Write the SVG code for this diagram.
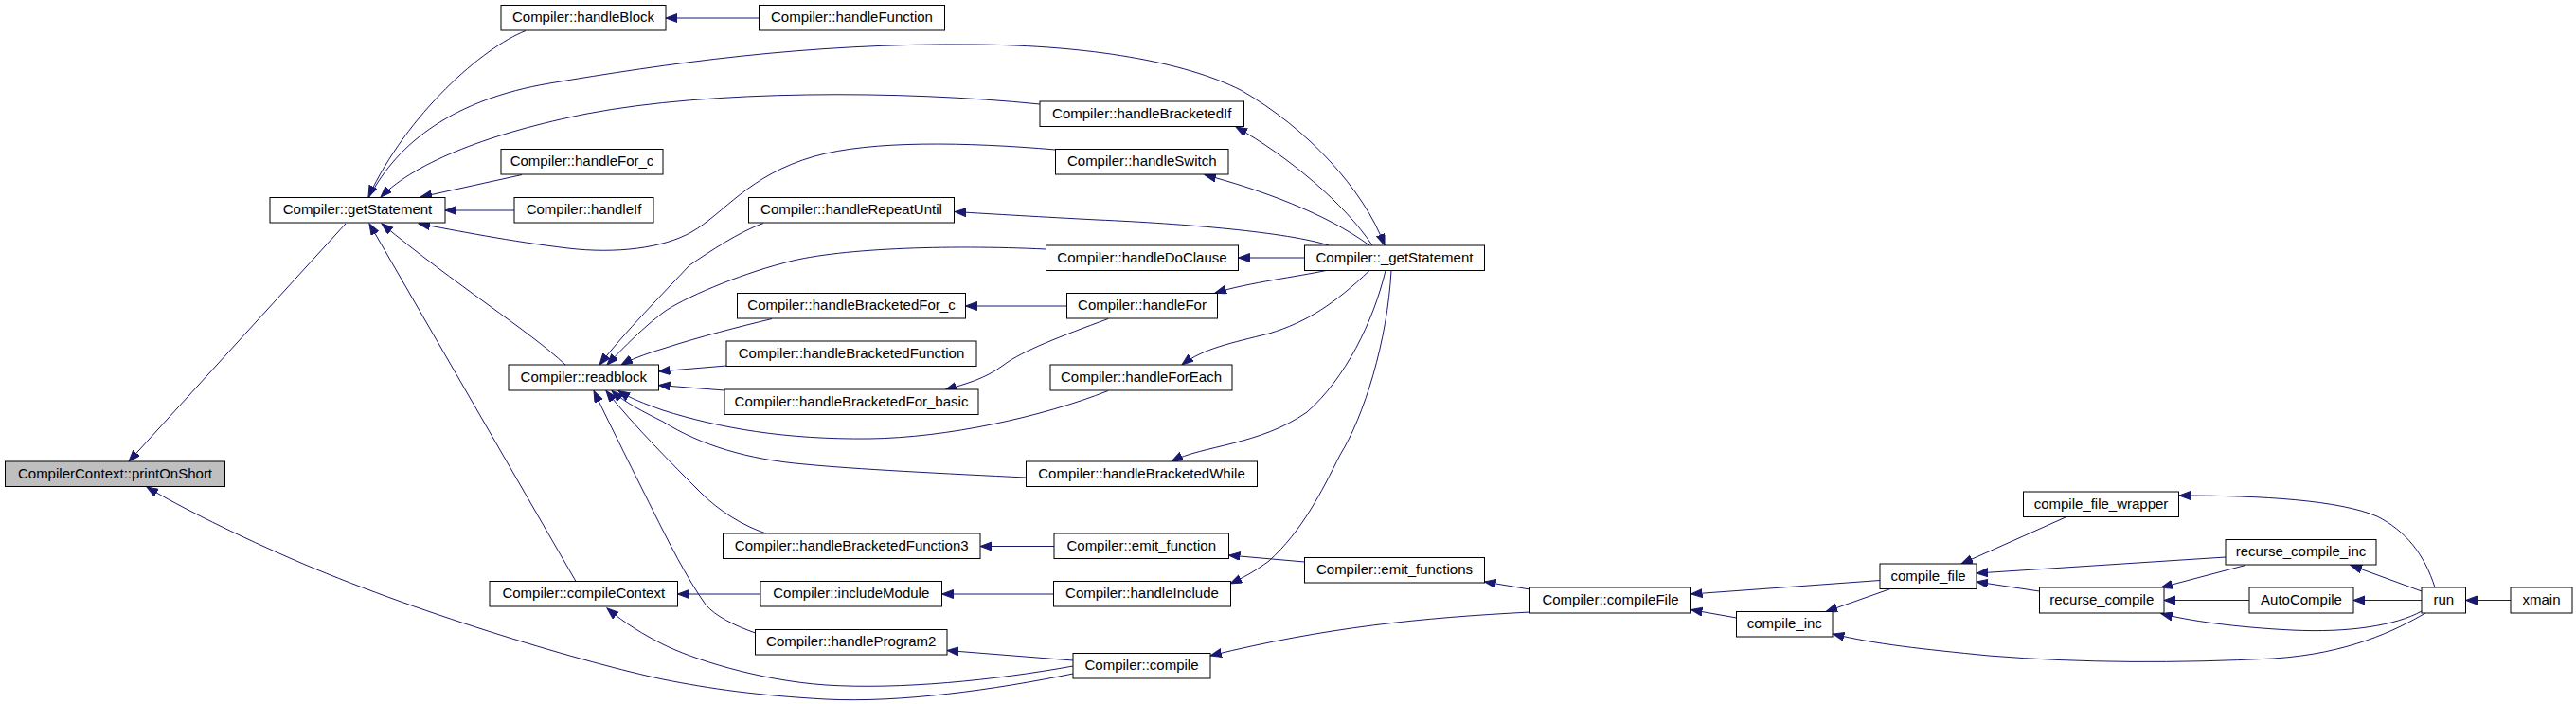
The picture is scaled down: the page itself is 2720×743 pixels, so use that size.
<svg xmlns="http://www.w3.org/2000/svg" width="2720" height="743" viewBox="0 0 2720 743">
<defs>
<style>
.n rect{fill:#fff;stroke:#000;stroke-width:1}
.n.hl rect{fill:#bfbfbf}
.n text{font-family:"Liberation Sans",Arial,sans-serif;font-size:15px;fill:#000;text-anchor:middle}
#edges path{fill:none;stroke:#191970;stroke-width:1;marker-end:url(#arr)}
</style>
<marker id="arr" markerUnits="userSpaceOnUse" markerWidth="13" markerHeight="10" refX="12" refY="4.5" orient="auto">
<path d="M0,0 L12,4.5 L0,9 z" fill="#191970" stroke="#191970" stroke-width="1"/>
</marker>
</defs>
<rect width="2720" height="743" fill="#fff"/>
<g id="edges">
<path d="M365,236 L136,487"/>
<path d="M555,32.5 C510,50 430,120 389,208"/>
<path d="M801.5,19 L703,19"/>
<path d="M1098,110 C950,95 750,95 620,120 C520,140 440,170 402,208"/>
<path d="M390,208 C420,150 480,105 580,88 C700,68 850,45 1030,47 C1150,48 1250,65 1310,95 C1380,135 1440,200 1462,259"/>
<path d="M551,184.5 L444,208"/>
<path d="M543,222 L470,222"/>
<path d="M1114.5,158 C1020,150 920,148 860,165 C790,185 765,225 730,245 C700,262 650,268 600,262 C540,255 480,243 442,236"/>
<path d="M597,385 C560,350 480,300 403,236"/>
<path d="M608,613.5 L390,236"/>
<path d="M1133,711 C1050,728 950,742 872,738 C800,734 750,727 700,717 C620,700 450,650 320,595 C250,565 190,535 155,514"/>
<path d="M1133,703 C1050,718 950,728 872,723 C800,718 730,695 700,680 C680,670 660,658 641,642"/>
<path d="M806,235.5 C780,245 750,265 728,280 C700,310 660,350 633,385"/>
<path d="M1104.5,263 C1000,258 880,262 826,278 C780,290 720,315 700,330 C680,345 660,365 641,385"/>
<path d="M815,336.5 C780,345 740,355 700,368 C680,374 665,380 656,385"/>
<path d="M767,386 L695.5,392"/>
<path d="M765,412 L695.5,406.5"/>
<path d="M1170,412.5 C1100,440 1000,462 918,463 C830,464 760,452 700,433 C680,426 665,420 653,412.5"/>
<path d="M1083.5,504 C1000,500 900,495 850,490 C790,485 740,470 700,445 C680,435 660,425 646,412.5"/>
<path d="M809,563 C785,555 760,540 740,520 C710,490 670,450 640,412.5"/>
<path d="M797.5,668 C775,660 755,650 745,638 C725,610 705,570 690,540 C665,490 640,440 627,412.5"/>
<path d="M1377.5,272 L1307.5,272"/>
<path d="M1449,259 C1420,215 1360,165 1305,134"/>
<path d="M1446,259 C1400,225 1330,200 1272,184.5"/>
<path d="M1403,259 C1360,245 1250,236 1159,232 C1100,229 1050,226 1008,223.5"/>
<path d="M1400,285.5 C1370,292 1320,298 1283,309"/>
<path d="M1446,285.5 C1410,320 1380,340 1340,352 C1300,362 1270,368 1248,385"/>
<path d="M1463,285.5 C1450,340 1420,400 1380,435 C1330,470 1270,470 1237,487"/>
<path d="M1469,285.5 C1465,360 1440,440 1415,480 C1395,520 1375,560 1340,592 C1325,603 1312,610 1299,616"/>
<path d="M1615.5,622 L1567.5,614"/>
<path d="M1615.5,646 C1500,652 1400,662 1278,692"/>
<path d="M1133,697 L1000,686.5"/>
<path d="M1377.5,593 L1297.5,586"/>
<path d="M1113,576.5 L1035,576.5"/>
<path d="M803,627 L715.5,627"/>
<path d="M1112.5,627 L994.5,627"/>
<path d="M1126.5,323 L1019.5,323"/>
<path d="M1170,336.5 C1120,355 1080,370 1060,385 C1040,400 1020,405 998,411.5"/>
<path d="M1985,612.5 L1785.5,627"/>
<path d="M1833.5,652 L1785.5,643.5"/>
<path d="M1996,621.5 L1928,645.5"/>
<path d="M2182,545.5 L2071,595"/>
<path d="M2350,588 L2087,605"/>
<path d="M2153.5,624 L2087,614"/>
<path d="M2371,596.5 L2282,620"/>
<path d="M2375,633.5 L2285,633.5"/>
<path d="M2557,633.5 L2485,633.5"/>
<path d="M2651,633.5 L2603.5,633.5"/>
<path d="M2571,620 C2560,585 2540,560 2510,545 C2470,528 2390,523 2301,523"/>
<path d="M2557,624 L2482,596.5"/>
<path d="M2557,645 C2530,660 2480,668 2420,665 C2360,662 2310,655 2282,647.5"/>
<path d="M2561,647 C2530,665 2480,690 2400,695 C2300,700 2200,700 2100,692 C2030,685 1980,680 1935.5,669"/>
</g>
<g id="printOnShort" class="n hl"><rect x="5.5" y="487" width="232" height="26.5"/><text x="121.5" y="504.5">CompilerContext::printOnShort</text></g>
<g id="getStatement" class="n"><rect x="285" y="208.5" width="185" height="26.5"/><text x="377.5" y="226">Compiler::getStatement</text></g>
<g id="handleBlock" class="n"><rect x="529" y="5.5" width="174" height="26.5"/><text x="616" y="23">Compiler::handleBlock</text></g>
<g id="handleFunction" class="n"><rect x="801.5" y="5.5" width="196" height="26.5"/><text x="899.5" y="23">Compiler::handleFunction</text></g>
<g id="handleBracketedIf" class="n"><rect x="1098" y="107" width="215.5" height="26.5"/><text x="1205.75" y="124.5">Compiler::handleBracketedIf</text></g>
<g id="handleFor_c" class="n"><rect x="529" y="157.5" width="171" height="26.5"/><text x="614.5" y="175">Compiler::handleFor_c</text></g>
<g id="handleIf" class="n"><rect x="543" y="208.5" width="147" height="26.5"/><text x="616.5" y="226">Compiler::handleIf</text></g>
<g id="handleSwitch" class="n"><rect x="1114.5" y="157.5" width="182.5" height="26.5"/><text x="1205.75" y="175">Compiler::handleSwitch</text></g>
<g id="handleRepeatUntil" class="n"><rect x="790.5" y="208.5" width="217" height="26.5"/><text x="899" y="226">Compiler::handleRepeatUntil</text></g>
<g id="handleDoClause" class="n"><rect x="1104.5" y="259" width="203" height="26.5"/><text x="1206" y="276.5">Compiler::handleDoClause</text></g>
<g id="_getStatement" class="n"><rect x="1377.5" y="259" width="190" height="26.5"/><text x="1472.5" y="276.5">Compiler::_getStatement</text></g>
<g id="readblock" class="n"><rect x="537" y="385" width="158.5" height="27"/><text x="616.25" y="402.5">Compiler::readblock</text></g>
<g id="handleBracketedFor_c" class="n"><rect x="778.5" y="309.5" width="241" height="26.5"/><text x="899" y="327">Compiler::handleBracketedFor_c</text></g>
<g id="handleFor" class="n"><rect x="1126.5" y="309.5" width="159" height="26.5"/><text x="1206" y="327">Compiler::handleFor</text></g>
<g id="handleBracketedFunction" class="n"><rect x="767" y="360" width="264" height="26.5"/><text x="899" y="377.5">Compiler::handleBracketedFunction</text></g>
<g id="handleForEach" class="n"><rect x="1109" y="385" width="192" height="27"/><text x="1205" y="402.5">Compiler::handleForEach</text></g>
<g id="handleBracketedFor_basic" class="n"><rect x="765" y="411" width="268" height="26.5"/><text x="899" y="428.5">Compiler::handleBracketedFor_basic</text></g>
<g id="handleBracketedWhile" class="n"><rect x="1083.5" y="487" width="244" height="26.5"/><text x="1205.5" y="504.5">Compiler::handleBracketedWhile</text></g>
<g id="handleBracketedFunction3" class="n"><rect x="763.5" y="563" width="271.5" height="26.5"/><text x="899.25" y="580.5">Compiler::handleBracketedFunction3</text></g>
<g id="emit_function" class="n"><rect x="1113" y="563" width="184.5" height="26.5"/><text x="1205.25" y="580.5">Compiler::emit_function</text></g>
<g id="emit_functions" class="n"><rect x="1377.5" y="588.5" width="190" height="26.5"/><text x="1472.5" y="606">Compiler::emit_functions</text></g>
<g id="compileContext" class="n"><rect x="517" y="613.5" width="198.5" height="26.5"/><text x="616.25" y="631">Compiler::compileContext</text></g>
<g id="includeModule" class="n"><rect x="803" y="613.5" width="191.5" height="26.5"/><text x="898.75" y="631">Compiler::includeModule</text></g>
<g id="handleInclude" class="n"><rect x="1112.5" y="613.5" width="187" height="26.5"/><text x="1206" y="631">Compiler::handleInclude</text></g>
<g id="handleProgram2" class="n"><rect x="797.5" y="664.5" width="202.5" height="26.5"/><text x="898.75" y="682">Compiler::handleProgram2</text></g>
<g id="compile" class="n"><rect x="1133" y="689.5" width="145" height="26.5"/><text x="1205.5" y="707">Compiler::compile</text></g>
<g id="compileFile" class="n"><rect x="1615.5" y="620" width="170" height="27"/><text x="1700.5" y="637.5">Compiler::compileFile</text></g>
<g id="compile_file_wrapper" class="n"><rect x="2136.5" y="519" width="164" height="26.5"/><text x="2218.5" y="536.5">compile_file_wrapper</text></g>
<g id="recurse_compile_inc" class="n"><rect x="2350" y="569.5" width="159" height="26.5"/><text x="2429.5" y="587">recurse_compile_inc</text></g>
<g id="compile_file" class="n"><rect x="1985" y="595" width="102" height="26.5"/><text x="2036" y="612.5">compile_file</text></g>
<g id="recurse_compile" class="n"><rect x="2153.5" y="620" width="131.5" height="27"/><text x="2219.25" y="637.5">recurse_compile</text></g>
<g id="AutoCompile" class="n"><rect x="2375" y="620" width="110" height="27"/><text x="2430" y="637.5">AutoCompile</text></g>
<g id="run" class="n"><rect x="2557" y="620" width="46.5" height="27"/><text x="2580.25" y="637.5">run</text></g>
<g id="xmain" class="n"><rect x="2651" y="620" width="65" height="27"/><text x="2683.5" y="637.5">xmain</text></g>
<g id="compile_inc" class="n"><rect x="1833.5" y="645.5" width="101.5" height="26.5"/><text x="1884.25" y="663">compile_inc</text></g>
</svg>
